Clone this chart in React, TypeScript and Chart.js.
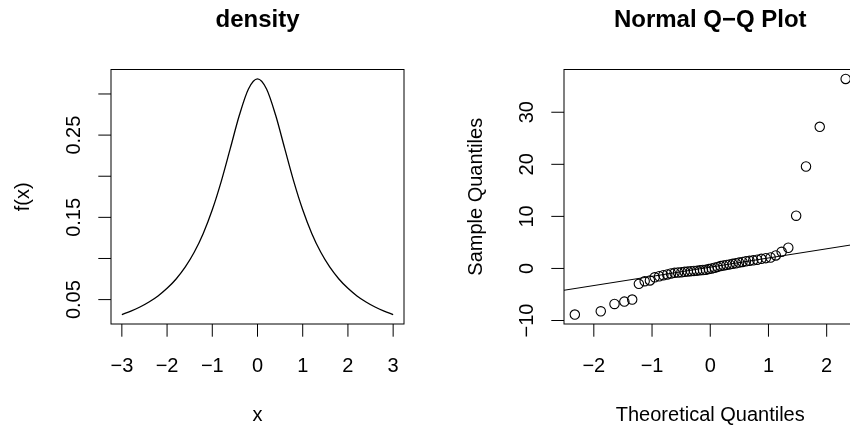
import React, { useEffect, useRef } from "react";
import { Chart, registerables } from "chart.js";

Chart.register(...registerables);

// ---------- data: left panel (density curve) ----------
const densityX = [
  -3, -2.8, -2.6, -2.4, -2.2, -2, -1.8, -1.6, -1.4, -1.2, -1, -0.8, -0.6, -0.4, -0.2, 0,
  0.2, 0.4, 0.6, 0.8, 1, 1.2, 1.4, 1.6, 1.8, 2, 2.2, 2.4, 2.6, 2.8, 3,
];
const densityY = [
  0.0318, 0.036, 0.041, 0.0471, 0.0545, 0.0637, 0.0751, 0.0894, 0.1075, 0.1305, 0.1592,
  0.1941, 0.2341, 0.2744, 0.3061, 0.3183, 0.3061, 0.2744, 0.2341, 0.1941, 0.1592, 0.1305,
  0.1075, 0.0894, 0.0751, 0.0637, 0.0545, 0.0471, 0.041, 0.036, 0.0318,
];
const densityXTicks = [-3, -2, -1, 0, 1, 2, 3];
const densityXLabels = ["−3", "−2", "−1", "0", "1", "2", "3"];
const densityYTicks = [0.05, 0.1, 0.15, 0.2, 0.25, 0.3];
const densityYLabels = ["0.05", "", "0.15", "", "0.25", ""];

// ---------- data: right panel (normal Q-Q plot) ----------
const qqTheoretical = [
  -2.3263, -1.8808, -1.6449, -1.4758, -1.3408, -1.2265, -1.1264, -1.0364, -0.9542, -0.8779,
  -0.8064, -0.7388, -0.6745, -0.6128, -0.5534, -0.4959, -0.4399, -0.3853, -0.3319, -0.2793,
  -0.2275, -0.1764, -0.1257, -0.0753, -0.0251, 0.0251, 0.0753, 0.1257, 0.1764, 0.2275,
  0.2793, 0.3319, 0.3853, 0.4399, 0.4959, 0.5534, 0.6128, 0.6745, 0.7388, 0.8064,
  0.8779, 0.9542, 1.0364, 1.1264, 1.2265, 1.3408, 1.4758, 1.6449, 1.8808, 2.3263,
];
const qqSample = [
  -8.86, -8.23, -6.82, -6.37, -5.98, -2.96, -2.45, -2.3, -1.7, -1.5,
  -1.3, -1.15, -0.96, -0.85, -0.78, -0.72, -0.65, -0.58, -0.52, -0.47,
  -0.42, -0.36, -0.3, -0.24, -0.12, 0.0, 0.15, 0.3, 0.45, 0.58,
  0.68, 0.78, 0.88, 1.0, 1.12, 1.25, 1.38, 1.47, 1.55, 1.68,
  1.85, 1.98, 2.1, 2.5, 3.2, 3.97, 10.13, 19.58, 27.2, 36.4,
];
const qqXTicks = [-2, -1, 0, 1, 2];
const qqXLabels = ["−2", "−1", "0", "1", "2"];
const qqYTicks = [-10, 0, 10, 20, 30];
const qqYLabels = ["−10", "0", "10", "20", "30"];

// ---------- helpers ----------
const FONT = "'Liberation Sans', Arial, Helvetica, sans-serif";
const TICK_LEN = 12.7;

function rRange(vals: number[]) {
  const lo = Math.min(...vals);
  const hi = Math.max(...vals);
  const d = (hi - lo) * 0.04;
  return [lo - d, hi + d];
}

function quantile7(sorted: number[], p: number) {
  const h = (sorted.length - 1) * p;
  const lo = Math.floor(h);
  return sorted[lo] + (h - lo) * ((sorted[lo + 1] ?? sorted[lo]) - sorted[lo]);
}

type Deco = {
  title: string;
  xlab: string;
  ylab: string;
  xTicks: number[];
  xLabels: string[];
  yTicks: number[];
  yLabels: string[];
};

function rDecorations(cfg: Deco) {
  return {
    id: "rDecorations",
    afterDraw(chart: any) {
      const { ctx, chartArea: a } = chart;
      const x = chart.scales.x;
      const y = chart.scales.y;
      ctx.save();
      ctx.strokeStyle = "#000";
      ctx.fillStyle = "#000";
      ctx.lineWidth = 1;
      // box
      ctx.strokeRect(a.left, a.top, a.right - a.left, a.bottom - a.top);
      // tick marks
      ctx.beginPath();
      cfg.xTicks.forEach((v) => {
        const p = x.getPixelForValue(v);
        ctx.moveTo(p, a.bottom);
        ctx.lineTo(p, a.bottom + TICK_LEN);
      });
      cfg.yTicks.forEach((v) => {
        const p = y.getPixelForValue(v);
        ctx.moveTo(a.left, p);
        ctx.lineTo(a.left - TICK_LEN, p);
      });
      ctx.stroke();
      // x tick labels
      ctx.font = `20px ${FONT}`;
      ctx.textAlign = "center";
      ctx.textBaseline = "alphabetic";
      cfg.xTicks.forEach((v, i) => {
        const p = x.getPixelForValue(v);
        ctx.fillText(cfg.xLabels[i], p, 371.5);
      });
      // y tick labels (rotated, R style)
      cfg.yTicks.forEach((v, i) => {
        if (!cfg.yLabels[i]) return;
        const p = y.getPixelForValue(v);
        ctx.save();
        ctx.translate(a.left - 31, p);
        ctx.rotate(-Math.PI / 2);
        ctx.fillText(cfg.yLabels[i], 0, 0);
        ctx.restore();
      });
      const cx = (a.left + a.right) / 2;
      const cy = (a.top + a.bottom) / 2;
      // axis titles
      ctx.fillText(cfg.xlab, cx, 421);
      ctx.save();
      ctx.translate(a.left - 82, cy);
      ctx.rotate(-Math.PI / 2);
      ctx.fillText(cfg.ylab, 0, 0);
      ctx.restore();
      // main title
      ctx.font = `bold 24px ${FONT}`;
      ctx.fillText(cfg.title, cx, 26.5);
      ctx.restore();
    },
  };
}

function DensityPanel() {
  const ref = useRef<HTMLCanvasElement | null>(null);
  useEffect(() => {
    if (!ref.current) return;
    const [xmin, xmax] = rRange(densityX);
    const [ymin, ymax] = rRange(densityY);
    const chart = new Chart(ref.current, {
      type: "scatter",
      data: {
        datasets: [
          {
            data: densityX.map((v, i) => ({ x: v, y: densityY[i] })),
            showLine: true,
            borderColor: "#000",
            borderWidth: 1.3,
            pointRadius: 0,
            cubicInterpolationMode: "monotone",
          } as any,
        ],
      },
      options: {
        responsive: false,
        animation: false,
        events: [],
        layout: { padding: { left: 111, right: 21, top: 69.5, bottom: 105 } },
        plugins: { legend: { display: false }, tooltip: { enabled: false } },
        scales: {
          x: { type: "linear", min: xmin, max: xmax, display: false },
          y: { type: "linear", min: ymin, max: ymax, display: false },
        },
      },
      plugins: [
        rDecorations({
          title: "density",
          xlab: "x",
          ylab: "f(x)",
          xTicks: densityXTicks,
          xLabels: densityXLabels,
          yTicks: densityYTicks,
          yLabels: densityYLabels,
        }),
      ],
    });
    return () => chart.destroy();
  }, []);
  return (
    <canvas
      ref={ref}
      width={425}
      height={429}
      style={{ position: "absolute", left: 0, top: 0 }}
    />
  );
}

function QQPanel() {
  const ref = useRef<HTMLCanvasElement | null>(null);
  useEffect(() => {
    if (!ref.current) return;
    const [xmin, xmax] = rRange(qqTheoretical);
    const [ymin, ymax] = rRange(qqSample);
    const sorted = [...qqSample].sort((p, q) => p - q);
    const q1 = quantile7(sorted, 0.25);
    const q3 = quantile7(sorted, 0.75);
    const z = 0.67449;
    const slope = (q3 - q1) / (2 * z);
    const intercept = q1 + slope * z;
    const lineX = [xmin - 1, xmax + 1];
    const chart = new Chart(ref.current, {
      type: "scatter",
      data: {
        datasets: [
          {
            data: qqTheoretical.map((v, i) => ({ x: v, y: qqSample[i] })),
            pointStyle: "circle",
            pointRadius: 4.7,
            borderColor: "#000",
            backgroundColor: "rgba(0,0,0,0)",
            borderWidth: 1.1,
          } as any,
          {
            data: lineX.map((v) => ({ x: v, y: intercept + slope * v })),
            showLine: true,
            borderColor: "#000",
            borderWidth: 1.1,
            pointRadius: 0,
          } as any,
        ],
      },
      options: {
        responsive: false,
        animation: false,
        events: [],
        layout: { padding: { left: 139, right: 18.5, top: 69.5, bottom: 105 } },
        plugins: { legend: { display: false }, tooltip: { enabled: false } },
        scales: {
          x: { type: "linear", min: xmin, max: xmax, display: false },
          y: { type: "linear", min: ymin, max: ymax, display: false },
        },
      },
      plugins: [
        rDecorations({
          title: "Normal Q−Q Plot",
          xlab: "Theoretical Quantiles",
          ylab: "Sample Quantiles",
          xTicks: qqXTicks,
          xLabels: qqXLabels,
          yTicks: qqYTicks,
          yLabels: qqYLabels,
        }),
      ],
    });
    return () => chart.destroy();
  }, []);
  return (
    <canvas
      ref={ref}
      width={450}
      height={429}
      style={{ position: "absolute", left: 425, top: 0 }}
    />
  );
}

export default function App() {
  return (
    <div
      style={{
        position: "fixed",
        left: 0,
        top: 0,
        width: 850,
        height: 429,
        overflow: "hidden",
        background: "#fff",
      }}
    >
      <DensityPanel />
      <QQPanel />
    </div>
  );
}
